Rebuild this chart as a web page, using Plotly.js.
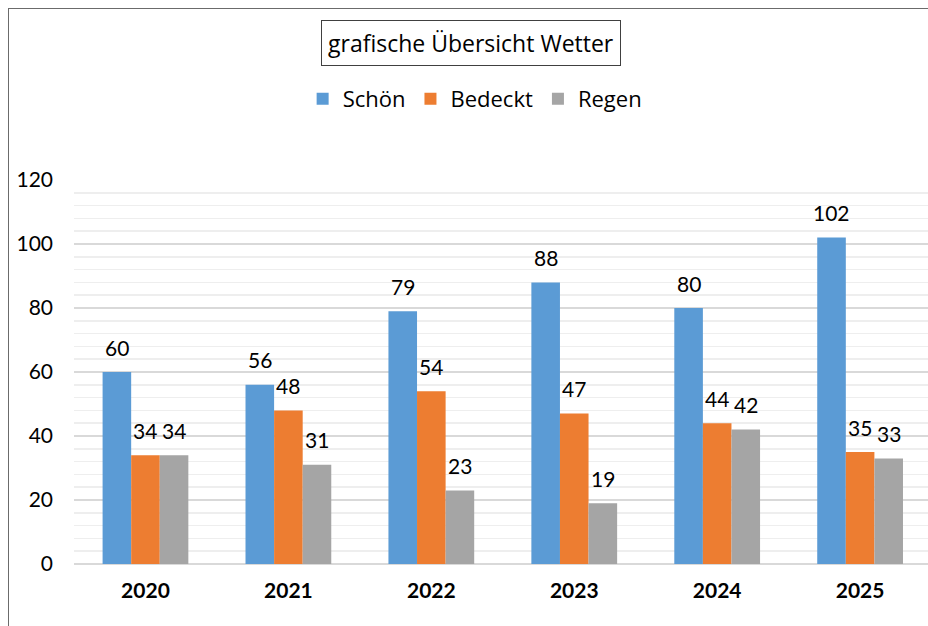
<!DOCTYPE html>
<html><head><meta charset="utf-8">
<script src="https://cdn.plot.ly/plotly-3.0.1.min.js"></script>
<style>
html,body{margin:0;padding:0;background:#fff;}
#wrap{position:relative;width:928px;height:626px;overflow:hidden;}
#chart{position:absolute;left:0;top:0;width:928px;height:626px;}
#frame{position:absolute;left:8px;top:8px;width:940px;height:640px;border-left:1.5px solid #6b6b6b;border-top:1.5px solid #6b6b6b;pointer-events:none;}
</style></head>
<body><div id="wrap"><div id="chart"></div><div id="frame"></div></div>
<script>
const years = ['2020','2021','2022','2023','2024','2025'];
const seriesNames = ['Schön','Bedeckt','Regen'];
const schoen = [60,56,79,88,80,102];
const bedeckt = [34,48,54,47,44,35];
const regen = [34,31,23,19,42,33];
const colors = ['#5b9bd5','#ed7d31','#a5a5a5'];
const allSeries = [schoen, bedeckt, regen];
const FONT = 'Lato, "Noto Sans", sans-serif';
const WIDE = '"Open Sans", "Noto Sans", sans-serif';

const idx = years.map((_, i) => i);
const traces = allSeries.map((vals, k) => ({
  type: 'bar', name: seriesNames[k], x: idx, y: vals,
  marker: {color: colors[k], line: {width: 0}},
  hoverinfo: 'none'
}));

const annotations = [];
allSeries.forEach((vals, k) => {
  vals.forEach((v, i) => {
    annotations.push({
      x: i + (k - 1) * 0.2, y: v, xref: 'x', yref: 'y',
      text: String(v), showarrow: false, yanchor: 'middle', yshift: 25,
      font: {family: FONT, size: 21, color: '#000'}
    });
  });
});
annotations.push({
  xref: 'paper', yref: 'paper', x: (471 - 74) / 854, y: 1 + (180 - 43) / 384,
  xanchor: 'center', yanchor: 'middle', showarrow: false,
  text: 'grafische Übersicht Wetter',
  font: {family: WIDE, size: 23, color: '#000'},
  bordercolor: '#404040', borderwidth: 1, borderpad: 6, bgcolor: '#fff'
});

const layout = {
  width: 928, height: 626,
  margin: {l: 74, r: 0, t: 180, b: 62},
  paper_bgcolor: '#fff', plot_bgcolor: '#fff',
  font: {family: FONT, color: '#000'},
  barmode: 'group', bargap: 0.4, bargroupgap: 0,
  showlegend: true,
  legend: {orientation: 'h', xref: 'container', yref: 'container',
    x: 0.512, xanchor: 'center', y: 1 - 99 / 626, yanchor: 'middle',
    font: {family: WIDE, size: 22, color: '#000'}, itemwidth: 30, traceorder: 'normal'},
  xaxis: {
    range: [-0.5, 5.475], tickvals: idx, ticktext: years,
    tickfont: {family: FONT, size: 21, color: '#000', weight: 'bold'},
    showgrid: false, zeroline: false, showline: false, ticks: '', ticklabelstandoff: 12
  },
  yaxis: {
    range: [0, 120], dtick: 20, tickfont: {family: FONT, size: 21, color: '#000'},
    showgrid: true, gridcolor: '#d9d9d9', gridwidth: 1.5,
    minor: {dtick: 4, showgrid: true, gridcolor: '#eeeeee', gridwidth: 1.5},
    zeroline: true, zerolinecolor: '#d9d9d9', zerolinewidth: 1.5,
    showline: false, ticks: '', ticklabelstandoff: 20
  },
  annotations: annotations
};
Plotly.newPlot('chart', traces, layout, {displayModeBar: false, staticPlot: true});
</script></body></html>
